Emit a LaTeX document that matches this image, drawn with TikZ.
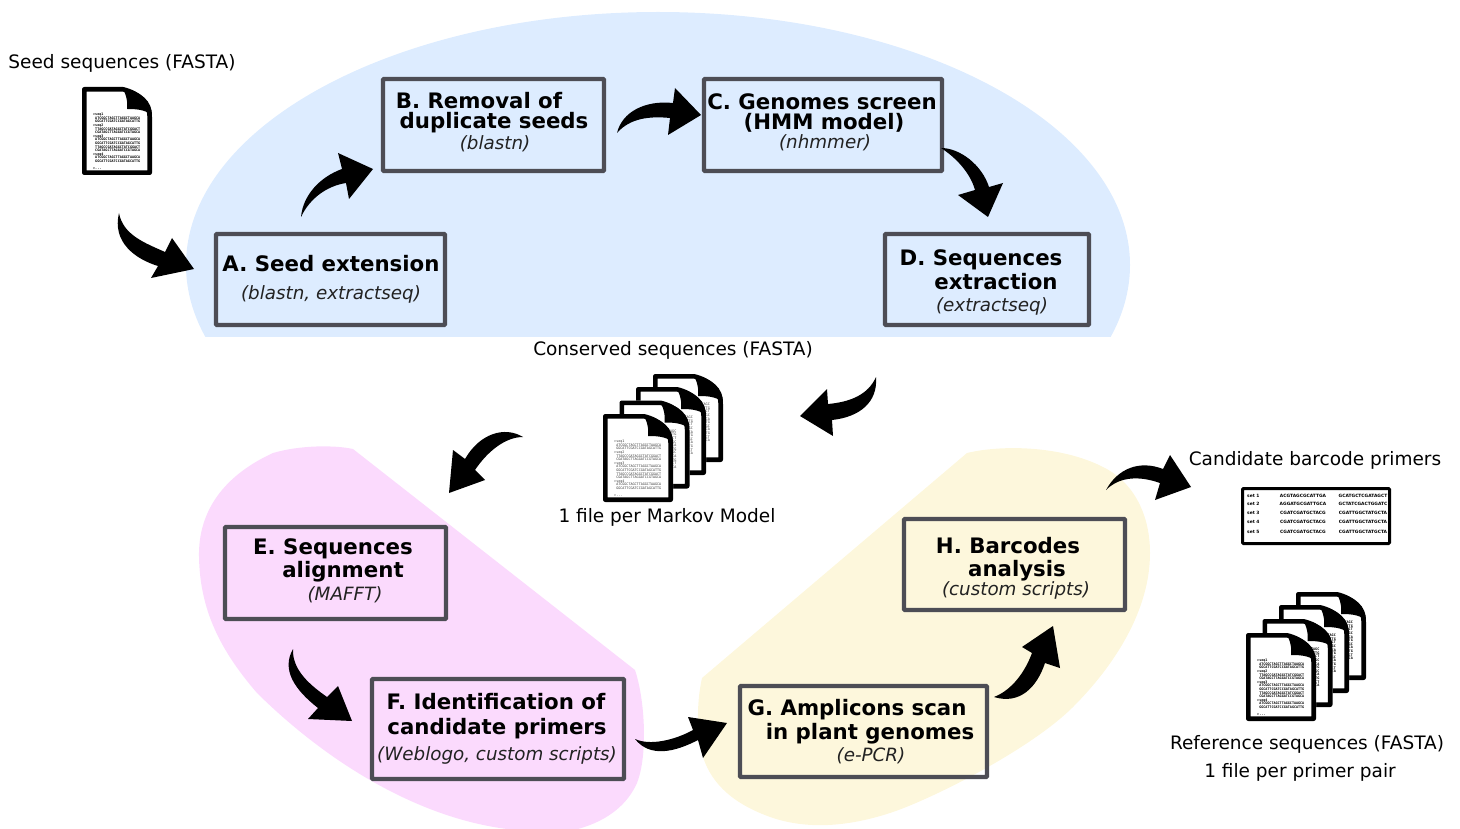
\documentclass[tikz,border=0pt]{standalone}
\usepackage{fontspec}
\setmainfont{DejaVu Sans}
\setmonofont{DejaVu Sans Mono}
\usetikzlibrary{calc}
\definecolor{blueblob}{HTML}{DDECFF}
\definecolor{pinkblob}{HTML}{FBDAFD}
\definecolor{yellowblob}{HTML}{FDF7DC}
\definecolor{boxline}{HTML}{4D4D55}
\definecolor{toolgray}{HTML}{222222}
\tikzset{
  stepbox/.style={draw=boxline,line width=4.4pt,rounded corners=1pt},
  stepbody/.style={anchor=base,inner sep=0pt,font=\fontsize{21.3}{24}\selectfont\bfseries,text=black},
  steptool/.style={anchor=base,inner sep=0pt,font=\fontsize{18.3}{20}\selectfont\itshape,text=toolgray},
  caption/.style={anchor=base,inner sep=0pt,font=\fontsize{18.5}{20}\selectfont,text=black},
  tablecell/.style={anchor=base,inner sep=0pt,font=\fontsize{4.4}{5}\selectfont\bfseries,text=black},
  seqtext/.style={inner sep=0pt,font=\fontsize{3.4}{3.6}\selectfont\ttfamily\bfseries,text=black},
  arrowfill/.style={fill=black,draw=none},
  docshape/.pic={
    \fill[white] (0,0) -- (41,0) .. controls (60,4) and (70,15) .. (70,30) -- (70,88) -- (0,88) -- cycle;
    \fill[black] (40,1) .. controls (60,4) and (70,15) .. (70,28) .. controls (62,22) and (52,22) .. (45,22) .. controls (46,15) and (44,6) .. cycle;
    \draw[black,line width=4.6pt,line join=round] (2.3,2.3) -- (41,2.3) .. controls (57,6) and (67.7,17) .. (67.7,30) -- (67.7,85.7) -- (2.3,85.7) -- cycle;
  },
  docicon/.pic={
    \pic {docshape};
    \node[seqtext,anchor=north west,align=left] (-seq) at (11,26) {>seq1\\ \ ATCGGCTAGCTTAGGCTAAGCA\\ \ GGCATTCGATCCGATAGCATTG\\>seq2\\ \ TTAGCCGATAGGCTATCGGACT\\ \ CGATAGCTTAGGATCCGTAGCA\\>seq3\\ \ ATCGGCTAGCTTAGGCTAAGCA\\ \ GGCATTCGATCCGATAGCATTG\\ \ TTAGCCGATAGGCTATCGGACT\\ \ CGATAGCTTAGGATCCGTAGCA\\>seq4\\ \ ATCGGCTAGCTTAGGCTAAGCA\\ \ GGCATTCGATCCGATAGCATTG\\\\>...};
  },
  docback/.pic={
    \pic {docshape};
    \node[seqtext,anchor=north east,align=right] (-seq) at (57,29) {TAGC\\ATTG\\GACT\\GC\\CA\\TG\\GC\\CA\\TG\\CT\\CA};
  }
}
\begin{document}
\begin{tikzpicture}[x=1pt,y=-1pt]
\useasboundingbox (0,0) rectangle (1460,829);
% background regions
\begin{scope}
  \clip (0,0) rectangle (1460,336);
  \fill[blueblob] (658,265) ellipse [x radius=472,y radius=253];
\end{scope}
\fill[pinkblob] (353,449) -- (635,670) .. controls (645,700) and (648,755) .. (637,783)
  .. controls (628,803) and (610,820) .. (578,829) -- (507,829)
  .. controls (420,818) and (330,765) .. (257,693)
  .. controls (220,650) and (200,610) .. (199,557)
  .. controls (198,510) and (225,475) .. (273,453)
  .. controls (300,445) and (335,445) .. cycle;
\fill[yellowblob] (967,453) -- (702,678) .. controls (696,705) and (697,735) .. (703,757)
  .. controls (712,785) and (735,805) .. (773,818)
  .. controls (810,830) and (850,826) .. (890,813)
  .. controls (930,800) and (1030,750) .. (1073,707)
  .. controls (1115,665) and (1150,610) .. (1150,553)
  .. controls (1150,510) and (1130,480) .. (1103,467)
  .. controls (1060,445) and (1000,445) .. cycle;
% steps
\node[stepbox,minimum width=229pt,minimum height=91pt] (boxA) at (330.5,279.5) {};
\node[stepbox,minimum width=221pt,minimum height=92pt] (boxB) at (493.5,125) {};
\node[stepbox,minimum width=238pt,minimum height=92pt] (boxC) at (823,125) {};
\node[stepbox,minimum width=204pt,minimum height=91pt] (boxD) at (987,279.5) {};
\node[stepbox,minimum width=221pt,minimum height=92pt] (boxE) at (335.5,573) {};
\node[stepbox,minimum width=252pt,minimum height=100pt] (boxF) at (498,729) {};
\node[stepbox,minimum width=247pt,minimum height=91pt] (boxG) at (863.5,731.5) {};
\node[stepbox,minimum width=221pt,minimum height=91pt] (boxH) at (1014.5,564.5) {};
% step texts
\node[stepbody] (tA1) at (331,272) {A. Seed extension};
\node[steptool] (tA2) at (331,299) {(blastn, extractseq)};
\node[stepbody] (tB1) at (479,109) {B. Removal of};
\node[stepbody] (tB2) at (494,129) {duplicate seeds};
\node[steptool] (tB3) at (495,150) {(blastn)};
\node[stepbody] (tC1) at (822,110) {C. Genomes screen};
\node[stepbody] (tC2) at (824,130) {(HMM model)};
\node[steptool] (tC3) at (825,149) {(nhmmer)};
\node[stepbody] (tD1) at (981,266) {D. Sequences};
\node[stepbody] (tD2) at (996,290) {extraction};
\node[steptool] (tD3) at (992,312) {(extractseq)};
\node[stepbody] (tE1) at (333,554) {E. Sequences};
\node[stepbody] (tE2) at (343,577) {alignment};
\node[steptool] (tE3) at (345,600) {(MAFFT)};
\node[stepbody] (tF1) at (496,709) {F. Identification of};
\node[stepbody] (tF2) at (497,734) {candidate primers};
\node[steptool] (tF3) at (497,760) {(Weblogo, custom scripts)};
\node[stepbody] (tG1) at (857,715) {G. Amplicons scan};
\node[stepbody] (tG2) at (870,739) {in plant genomes};
\node[steptool] (tG3) at (871,761) {(e-PCR)};
\node[stepbody] (tH1) at (1008,553) {H. Barcodes};
\node[stepbody] (tH2) at (1017,576) {analysis};
\node[steptool] (tH3) at (1016,595) {(custom scripts)};
% captions
\node[caption] (capSeed) at (122,69) {Seed sequences (FASTA)};
\node[caption] (capCons) at (673,355) {Conserved sequences (FASTA)};
\node[caption] (capFile) at (667,522) {1 file per Markov Model};
\node[caption] (capCand) at (1315,465) {Candidate barcode primers};
\node[caption] (capRef) at (1307,749) {Reference sequences (FASTA)};
\node[caption] (capPair) at (1300,777) {1 file per primer pair};
% documents
\pic (seed) at (82,87) {docicon};
\begin{scope}[seqtext/.append style={font=\fontsize{3.4}{3.6}\selectfont\ttfamily,text=black!75}]
\pic (consA) at (653,374) {docback};
\pic (consB) at (636,387) {docback};
\pic (consC) at (619.5,400.5) {docback};
\pic (consD) at (603,414) {docicon};
\end{scope}
\pic (refA) at (1296,592) {docback};
\pic (refB) at (1279,605) {docback};
\pic (refC) at (1262.5,619) {docback};
\pic (refD) at (1246,633) {docicon};
% primer table
\node[draw=black,line width=3pt,rounded corners=1pt,minimum width=147pt,minimum height=55pt] (primerTable) at (1316,516) {};
\foreach \r/\base/\s/\p/\q in {1/497/set 1/ACGTAGCGCATTGA/GCATGCTCGATAGCT,
  2/505.5/set 2/AGGATGCGATTGCA/GCTATCGACTGGATC,
  3/514/set 3/CGATCGATGCTACG/CGATTGGCTATGCTA,
  4/523.5/set 4/CGATCGATGCTACG/CGATTGGCTATGCTA,
  5/533.5/set 5/CGATCGATGCTACG/CGATTGGCTATGCTA}{
  \node[tablecell,anchor=base west] (set\r) at (1247,\base) {\s};
  \node[tablecell] (fwd\r) at (1303,\base) {\p};
  \node[tablecell] (rev\r) at (1363,\base) {\q};
}
% block arrows: each runs from a named tail to a named tip
\coordinate (a1s) at (119,213); \coordinate (a1e) at (194,269);
\coordinate (a2s) at (301,217); \coordinate (a2e) at (373,169);
\coordinate (a3s) at (617,133); \coordinate (a3e) at (701,115);
\coordinate (a4s) at (941,148); \coordinate (a4e) at (988,217);
\coordinate (a5s) at (876,377); \coordinate (a5e) at (800,416);
\coordinate (a6s) at (523,437); \coordinate (a6e) at (449,493);
\coordinate (a7s) at (293,649); \coordinate (a7e) at (352,721);
\coordinate (a8s) at (635,739); \coordinate (a8e) at (727,723);
\coordinate (a9s) at (994,697); \coordinate (a9e) at (1053,626);
\coordinate (a10s) at (1106,490); \coordinate (a10e) at (1191,487);
\fill[arrowfill] (a1s) .. controls (123,235) and (145,243) .. (165,252) -- (172,238) -- (a1e) -- (151,278) -- (158,266) .. controls (135,259) and (112,242) .. cycle;
\fill[arrowfill] (a2s) .. controls (303,195) and (320,177) .. (342,169) -- (338,153) -- (a2e) -- (349,199) -- (346,183) .. controls (327,186) and (310,198) .. cycle;
\fill[arrowfill] (a3s) .. controls (622,112) and (645,100) .. (673,103) -- (675,88) -- (a3e) -- (668,135) -- (670,118) .. controls (650,116) and (630,118) .. cycle;
\fill[arrowfill] (a4s) .. controls (960,148) and (982,165) .. (989,187) -- (1003,183) -- (a4e) -- (958,195) -- (975,190) .. controls (970,172) and (955,157) .. cycle;
\fill[arrowfill] (a5s) .. controls (878,402) and (860,417) .. (832,420) -- (833,436) -- (a5e) -- (827,389) -- (828,404) .. controls (850,402) and (868,395) .. cycle;
\fill[arrowfill] (a6s) .. controls (505,426) and (480,433) .. (465,459) -- (453,450) -- (a6e) -- (485,480) -- (475,470) .. controls (487,452) and (505,437) .. cycle;
\fill[arrowfill] (a7s) .. controls (281,670) and (295,690) .. (318,708) -- (308,719) -- (a7e) -- (338,686) -- (327,697) .. controls (310,685) and (292,670) .. cycle;
\fill[arrowfill] (a8s) .. controls (650,758) and (675,752) .. (698,740) -- (703,758) -- (a8e) -- (688,717) -- (693,730) .. controls (675,740) and (650,746) .. cycle;
\fill[arrowfill] (a9s) .. controls (1020,705) and (1037,687) .. (1045,663) -- (1060,668) -- (a9e) -- (1022,647) -- (1032,653) .. controls (1025,672) and (1012,690) .. cycle;
\fill[arrowfill] (a10s) .. controls (1118,468) and (1140,460) .. (1163,469) -- (1170,455) -- (a10e) -- (1155,500) -- (1160,483) .. controls (1140,476) and (1120,476) .. cycle;
\end{tikzpicture}
\end{document}
